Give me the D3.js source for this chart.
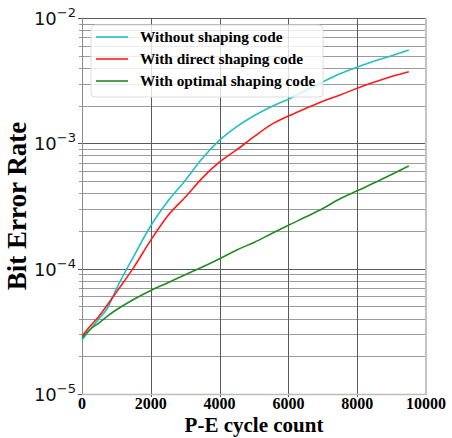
<!DOCTYPE html>
<html>
<head>
<meta charset="utf-8">
<script src="https://cdn.jsdelivr.net/npm/d3@7"></script>
<style>
  body { margin: 0; background: #fff; }
  svg { display: block; }
</style>
</head>
<body>
<div id="chart"></div>
<script>
// データ ------------------------------------------------------------------------------
const cycles = [0, 250, 500, 750, 1000, 1500, 2000, 2500, 3000, 3500, 4000, 4500, 5000,
  5500, 6000, 6500, 7000, 7500, 8000, 8500, 9000, 9500];
const berWithout = [2.7e-5, 3.3e-5, 4.0e-5, 4.9e-5, 6.9e-5, 1.25e-4, 2.2e-4, 3.46e-4, 5.06e-4,
  7.6e-4, 1.06e-3, 1.36e-3, 1.66e-3, 1.96e-3, 2.25e-3, 2.64e-3, 3.09e-3, 3.59e-3, 4.05e-3,
  4.53e-3, 5.0e-3, 5.55e-3];
const berDirect = [2.9e-5, 3.5e-5, 4.2e-5, 5.2e-5, 6.5e-5, 1.02e-4, 1.69e-4, 2.66e-4, 3.71e-4,
  5.3e-4, 7.1e-4, 8.9e-4, 1.13e-3, 1.41e-3, 1.65e-3, 1.9e-3, 2.17e-3, 2.43e-3, 2.75e-3,
  3.08e-3, 3.42e-3, 3.73e-3];
const berOptimal = [2.8e-5, 3.3e-5, 3.7e-5, 4.2e-5, 4.7e-5, 5.68e-5, 6.7e-5, 7.73e-5, 8.95e-5,
  1.03e-4, 1.2e-4, 1.41e-4, 1.62e-4, 1.9e-4, 2.22e-4, 2.58e-4, 3.02e-4, 3.61e-4, 4.18e-4,
  4.84e-4, 5.65e-4, 6.6e-4];
const seriesNames = ['Without shaping code', 'With direct shaping code', 'With optimal shaping code'];
const seriesColors = ['#1fc1c6', '#ff1a1a', '#228b22'];
const xTicks = [0, 2000, 4000, 6000, 8000, 10000];
const yTicks = [1e-5, 1e-4, 1e-3, 1e-2];

// SVG領域 -----------------------------------------------------------------------------
const width = 452;
const height = 438;
const margin = {top: 18, right: 26, bottom: 44, left: 82};
const svg = d3.select('#chart').append('svg')
  .attr('width', width)
  .attr('height', height);

const x = d3.scaleLinear()
  .domain([0, 10000])
  .range([margin.left, width - margin.right]);
const y = d3.scaleLog()
  .domain([1e-5, 1e-2])
  .range([height - margin.bottom, margin.top]);

// グリッド ----------------------------------------------------------------------------
const minorTicks = [];
yTicks.slice(0, -1).forEach(t => {
  for (let k = 2; k < 10; k++) minorTicks.push(t * k);
});
const grid = svg.append('g');
grid.selectAll('.minor')
  .data(minorTicks)
  .enter().append('line')
  .attr('x1', x(0) - 3).attr('x2', x(10000))
  .attr('y1', d => Math.round(y(d)) + 0.5).attr('y2', d => Math.round(y(d)) + 0.5)
  .attr('stroke', '#9a9a9a')
  .attr('stroke-width', 1);
grid.selectAll('.major')
  .data(yTicks)
  .enter().append('line')
  .attr('x1', x(0) - 4).attr('x2', x(10000))
  .attr('y1', d => Math.round(y(d)) + 0.5).attr('y2', d => Math.round(y(d)) + 0.5)
  .attr('stroke', '#5a5a5a')
  .attr('stroke-width', 1);
grid.selectAll('.xgrid')
  .data(xTicks.slice(1, -1))
  .enter().append('line')
  .attr('x1', d => Math.round(x(d)) + 0.5).attr('x2', d => Math.round(x(d)) + 0.5)
  .attr('y1', y(1e-2)).attr('y2', y(1e-5) + 3)
  .attr('stroke', '#5a5a5a')
  .attr('stroke-width', 1);

// 枠線
svg.append('line')
  .attr('x1', x(0) + 0.5).attr('x2', x(0) + 0.5)
  .attr('y1', y(1e-2)).attr('y2', y(1e-5) + 1)
  .attr('stroke', '#8a8a8a');
svg.append('line')
  .attr('x1', x(0)).attr('x2', x(10000) + 1)
  .attr('y1', y(1e-5) + 0.5).attr('y2', y(1e-5) + 0.5)
  .attr('stroke', '#bdbdbd').attr('stroke-width', 1.5);
svg.append('line')
  .attr('x1', x(10000)).attr('x2', x(10000))
  .attr('y1', y(1e-2)).attr('y2', y(1e-5) + 1)
  .attr('stroke', '#c4c4c4').attr('stroke-width', 2);

// 線 ---------------------------------------------------------------------------------
const allSeries = [berWithout, berDirect, berOptimal];
const line = d3.line()
  .x((d, i) => x(cycles[i]))
  .y(d => y(d))
  .curve(d3.curveMonotoneX);
svg.append('g')
  .selectAll('path')
  .data(allSeries)
  .enter().append('path')
  .attr('d', d => line(d))
  .attr('fill', 'none')
  .attr('stroke', (d, i) => seriesColors[i])
  .attr('stroke-width', 1.6);

// 軸ラベル ----------------------------------------------------------------------------
svg.append('g')
  .selectAll('text')
  .data(xTicks)
  .enter().append('text')
  .attr('x', d => x(d))
  .attr('y', y(1e-5) + 15)
  .attr('text-anchor', 'middle')
  .attr('font-family', 'Liberation Serif')
  .attr('font-weight', 'bold')
  .attr('font-size', '16px')
  .text(d => d);

const yLab = svg.append('g')
  .selectAll('text')
  .data(yTicks)
  .enter().append('text')
  .attr('x', x(0) - 6)
  .attr('y', d => y(d) + 7)
  .attr('text-anchor', 'end')
  .attr('font-family', 'DejaVu Sans')
  .attr('font-size', '18px')
  .attr('fill', '#111');
yLab.append('tspan').text('10');
yLab.append('tspan')
  .attr('dy', -8)
  .attr('font-size', '13px')
  .text(d => '\u2212' + Math.round(-Math.log10(d)));

svg.append('text')
  .attr('x', (x(0) + x(10000)) / 2)
  .attr('y', 432)
  .attr('text-anchor', 'middle')
  .attr('font-family', 'Liberation Serif')
  .attr('font-weight', 'bold')
  .attr('font-size', '21px')
  .text('P-E cycle count');

svg.append('text')
  .attr('transform', 'translate(26,' + ((y(1e-2) + y(1e-5)) / 2) + ') rotate(-90)')
  .attr('text-anchor', 'middle')
  .attr('font-family', 'Liberation Serif')
  .attr('font-weight', 'bold')
  .attr('font-size', '27px')
  .text('Bit Error Rate');

// 凡例 -------------------------------------------------------------------------------
const legend = svg.append('g').attr('transform', 'translate(91,25)');
legend.append('rect')
  .attr('width', 232).attr('height', 72)
  .attr('rx', 4)
  .attr('fill', 'rgba(255,255,255,0.8)')
  .attr('stroke', '#dcdcdc');
const item = legend.selectAll('.item')
  .data(seriesNames)
  .enter().append('g')
  .attr('transform', (d, i) => 'translate(0,' + (12 + 22 * i) + ')');
item.append('line')
  .attr('x1', 5).attr('x2', 37)
  .attr('stroke', (d, i) => seriesColors[i])
  .attr('stroke-width', 1.6);
item.append('text')
  .attr('x', 49).attr('y', 5)
  .attr('font-family', 'Liberation Serif')
  .attr('font-weight', 'bold')
  .attr('font-size', '15.3px')
  .text(d => d);
</script>
</body>
</html>
